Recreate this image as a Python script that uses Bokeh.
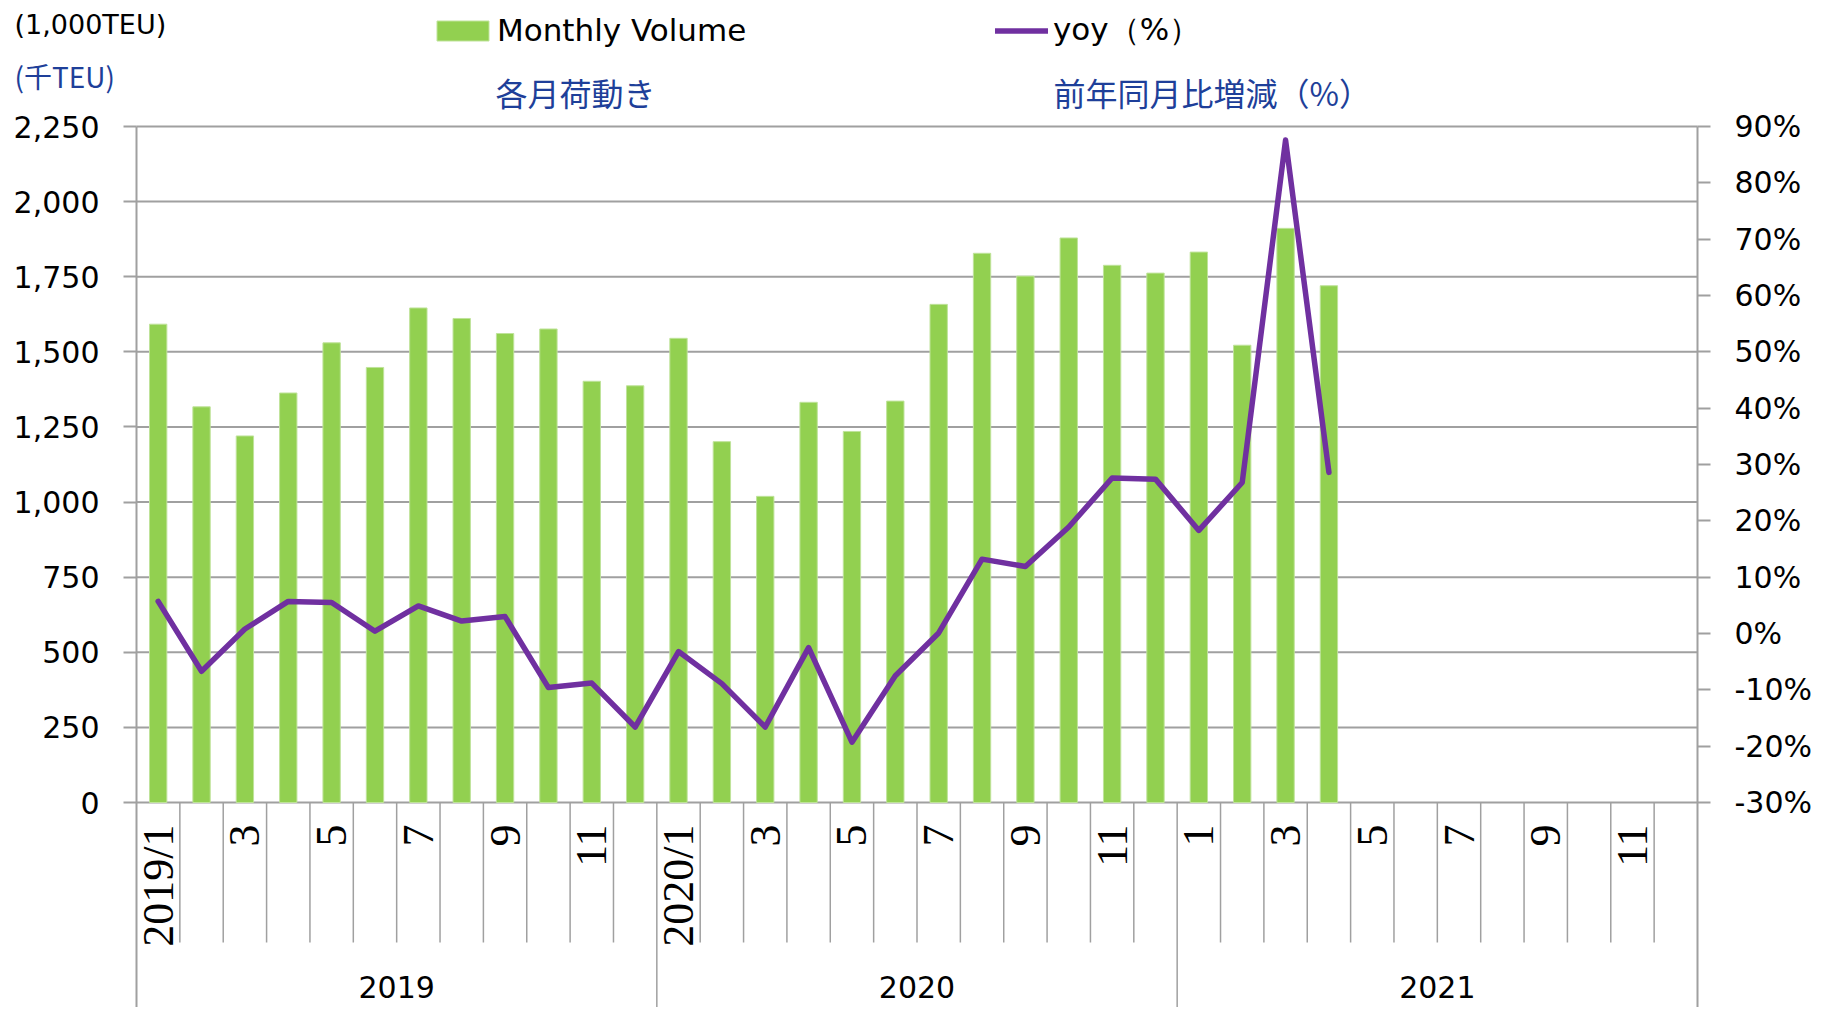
import math
from bokeh.plotting import figure
from bokeh.models import (Range1d, LinearAxis, FixedTicker, NumeralTickFormatter,
                          PrintfTickFormatter, Label, Legend, LegendItem, ColumnDataSource)
from bokeh.embed import file_html
from bokeh.resources import INLINE
from bokeh.core.properties import value

# ---------------- data ----------------
months = [f"{y}/{m}" for y in (2019, 2020, 2021) for m in range(1, 13)]
tick_labels = ["2019/1", "", "3", "", "5", "", "7", "", "9", "", "11", "",
               "2020/1", "", "3", "", "5", "", "7", "", "9", "", "11", "",
               "1", "", "3", "", "5", "", "7", "", "9", "", "11", ""]
years = ["2019", "2020", "2021"]
volume = [1592, 1317, 1220, 1363, 1530, 1448, 1646, 1611, 1561, 1576, 1402, 1387,
          1545, 1201, 1019, 1332, 1235, 1336, 1658, 1828, 1752, 1879, 1788, 1762,
          1832, 1522, 1911, 1720]
yoy = [5.7, -6.7, 0.8, 5.7, 5.5, 0.4, 4.9, 2.2, 3.0, -9.6, -8.8, -16.6,
       -3.2, -8.9, -16.6, -2.5, -19.3, -7.5, 0.1, 13.2, 11.9, 18.9, 27.6, 27.4,
       18.3, 26.8, 87.6, 28.6]
vol_ticks = list(range(0, 2251, 250))
pct_ticks = list(range(-30, 91, 10))

# ---------------- layout constants (pixels) ----------------
W, H = 1825, 1007
PX_LEFT, PX_RIGHT = 136, 1697      # plot area left / right
PX_TOP, PX_ZERO = 126, 802         # 2,250 line / zero line
GRID = "#A0A0A0"
BLUE = "#1E3F99"
GREEN = "#92D050"
PURPLE = "#7030A0"

n = len(months)
per_year = n // len(years)
ppx = (PX_RIGHT - PX_LEFT) / n
ppu = (PX_ZERO - PX_TOP) / (vol_ticks[-1] - vol_ticks[0])
ppp = (PX_ZERO - PX_TOP) / (pct_ticks[-1] - pct_ticks[0])
y_start = vol_ticks[0] - (H - PX_ZERO) / ppu
p_start = pct_ticks[0] - (H - PX_ZERO) / ppp

p = figure(width=W, height=H,
           x_range=Range1d(-PX_LEFT / ppx, n + (W - PX_RIGHT) / ppx),
           y_range=Range1d(y_start, vol_ticks[-1] + PX_TOP / ppu),
           output_backend="svg", toolbar_location=None,
           min_border=0, min_border_left=0, min_border_right=0,
           min_border_top=0, min_border_bottom=0,
           x_axis_location=None, y_axis_location=None)
p.extra_y_ranges = {"pct": Range1d(p_start, pct_ticks[-1] + PX_TOP / ppp)}
p.outline_line_color = None
p.grid.visible = False

# horizontal grid lines across the plot area
p.segment(x0=0, x1=n, y0=vol_ticks, y1=vol_ticks, line_color=GRID, line_width=2,
          level="underlay")

def style_axis(ax):
    ax.axis_line_color = GRID
    ax.axis_line_width = 2
    ax.major_tick_line_color = GRID
    ax.major_tick_line_width = 2
    ax.major_tick_out = 13
    ax.major_tick_in = 0
    ax.minor_tick_line_color = None
    ax.major_label_standoff = 24
    ax.major_label_text_font = "DejaVu Sans"
    ax.major_label_text_font_size = "30px"
    ax.major_label_text_color = "#000000"

la = LinearAxis(ticker=FixedTicker(ticks=vol_ticks), formatter=NumeralTickFormatter(format="0,0"),
                fixed_location=0, bounds=(y_start, vol_ticks[-1]))
style_axis(la)
p.add_layout(la, "left")

ra = LinearAxis(y_range_name="pct", ticker=FixedTicker(ticks=pct_ticks),
                formatter=PrintfTickFormatter(format="%d%%"),
                fixed_location=n, bounds=(p_start, pct_ticks[-1]))
style_axis(ra)
p.add_layout(ra, "right")

src = ColumnDataSource(dict(x=[i + 0.5 for i in range(len(volume))], vol=volume, yoy=yoy))
bars = p.vbar(x="x", top="vol", bottom=0, width=0.4, source=src, fill_color=GREEN,
              line_color="#BFE39A", line_width=1)
line = p.line(x="x", y="yoy", source=src, y_range_name="pct", line_color=PURPLE,
              line_width=5.5, line_join="round", line_cap="round")

# category separators and labels below the zero line
year_bounds = [per_year * k for k in range(1, len(years))]
month_bounds = [b for b in range(1, n) if b not in year_bounds]
p.segment(x0=month_bounds, y0=0, x1=month_bounds, y1=-140 / ppu,
          line_color=GRID, line_width=1.5)
p.segment(x0=year_bounds, y0=0, x1=year_bounds, y1=y_start,
          line_color=GRID, line_width=1.5)

p.text(x=[i + 0.5 for i in range(n)], y=-22 / ppu, text=tick_labels, angle=math.pi / 2,
       text_align="right", text_baseline="middle",
       text_font=value("Liberation Sans Narrow"), text_font_size="44px", text_color="#000000")
p.text(x=[per_year * k + per_year / 2 for k in range(len(years))], y=-184 / ppu, text=years,
       text_align="center", text_baseline="middle", text_font=value("DejaVu Sans"),
       text_font_size="30px", text_color="#000000")

# legends (one per series, placed in the header band)
leg1 = Legend(items=[LegendItem(label="Monthly Volume", renderers=[bars])],
              location=(430, H - 48), orientation="horizontal",
              glyph_width=65, glyph_height=25, label_standoff=2,
              padding=0, margin=0, spacing=0, border_line_color=None,
              background_fill_alpha=0, label_text_font="DejaVu Sans",
              label_text_font_size="31px", label_text_color="#000000")
leg2 = Legend(items=[LegendItem(label="yoy（%）", renderers=[line])],
              location=(995, H - 51), orientation="horizontal",
              glyph_width=53, glyph_height=25, label_standoff=5,
              padding=0, margin=0, spacing=0, border_line_color=None,
              background_fill_alpha=0, label_text_font="DejaVu Sans",
              label_text_font_size="31px", label_text_color="#000000")
p.add_layout(leg1)
p.add_layout(leg2)

def header(text, x, y, color, font, size):
    p.add_layout(Label(x=x, y=H - y, x_units="screen", y_units="screen", text=text,
                       text_color=color, text_font=font, text_font_size=size,
                       text_baseline="middle", text_align="left"))

header("(1,000TEU)", 14, 24, "#000000", "DejaVu Sans", "27px")
header("(千TEU)", 14, 75, BLUE, "Noto Sans CJK JP", "28px")
header("各月荷動き", 495, 91, BLUE, "Noto Sans CJK JP", "32px")
header("前年同月比増減（%）", 1053, 91, BLUE, "Noto Sans CJK JP", "32px")

open("out.html", "w").write(file_html(p, INLINE))
